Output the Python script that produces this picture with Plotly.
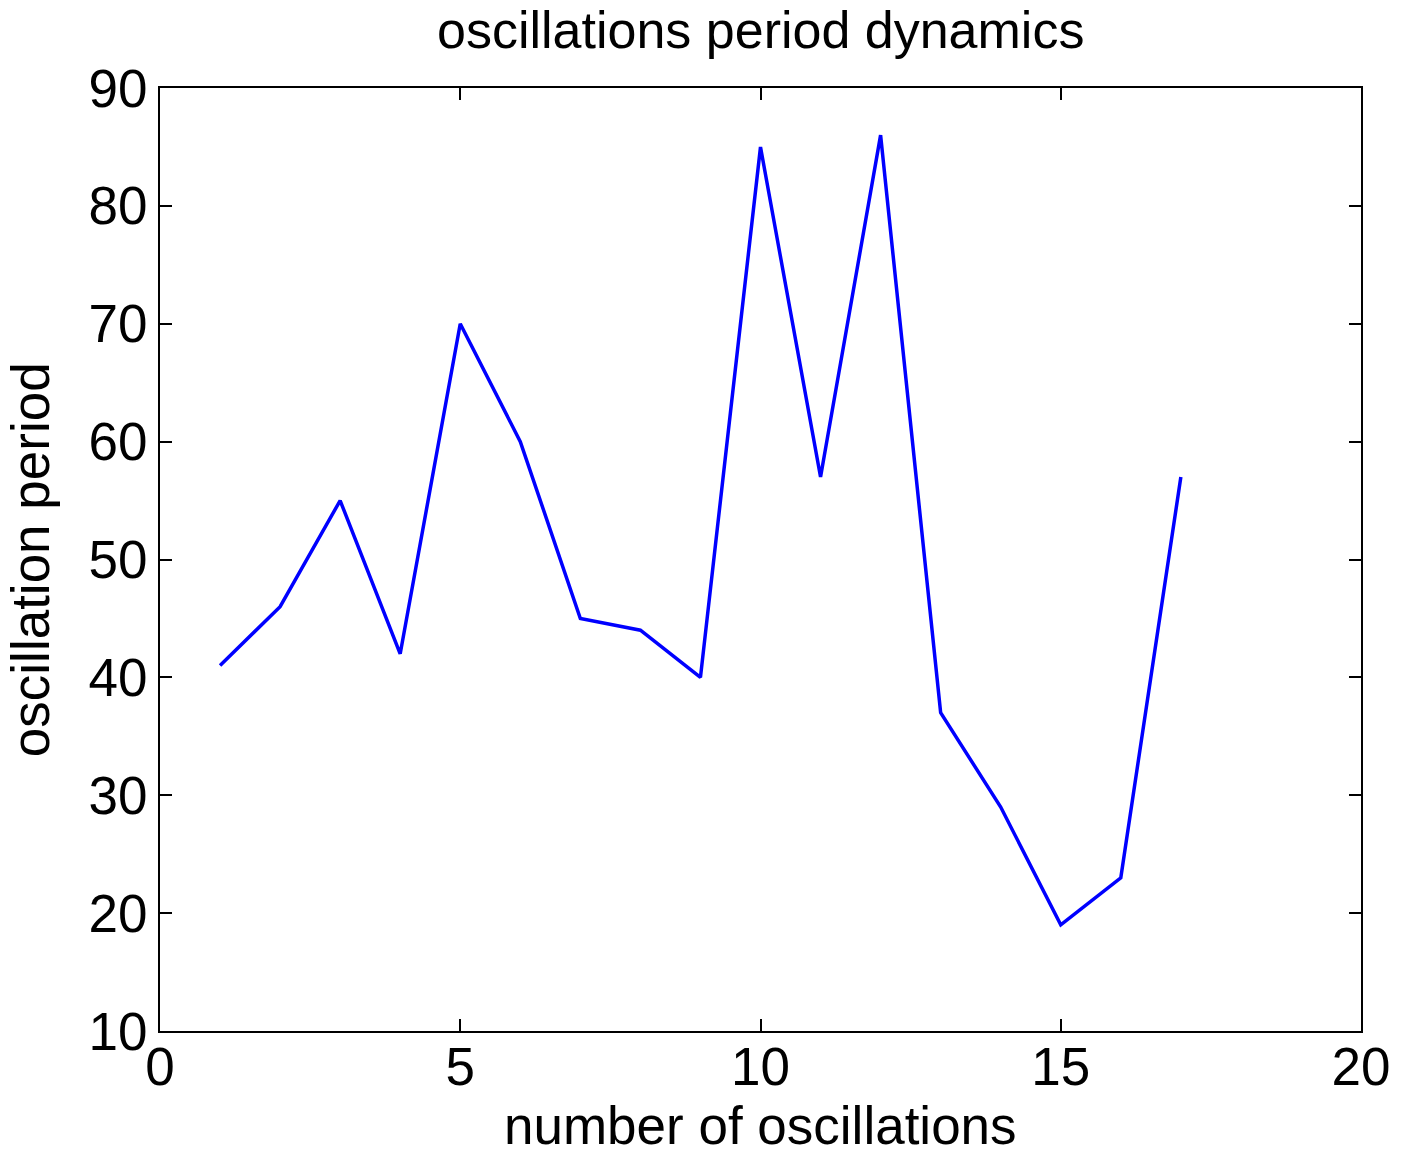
import plotly.graph_objects as go

# Oscillation index and measured period for each oscillation
oscillation_number = list(range(1, 18))
oscillation_period = [41, 46, 55, 42, 70, 60, 45, 44, 40, 85, 57, 86, 37, 29, 19, 23, 57]

x_ticks = [0, 5, 10, 15, 20]
y_ticks = [10, 20, 30, 40, 50, 60, 70, 80, 90]

FONT = "Liberation Sans, Arial, Helvetica, sans-serif"
W, H = 1402, 1154
L, R, T, B = 160, 35, 88, 123
PW, PH = W - L - R, H - T - B

fig = go.Figure()
fig.add_trace(go.Scatter(
    x=oscillation_number,
    y=oscillation_period,
    mode="lines",
    line=dict(color="#0000FF", width=3.5),
    showlegend=False,
))

axis_common = dict(
    showline=True,
    linecolor="black",
    linewidth=2,
    mirror="ticks",
    ticks="inside",
    ticklen=12,
    tickwidth=1.5,
    tickcolor="black",
    showgrid=False,
    zeroline=False,
    tickfont=dict(family=FONT, size=53, color="black"),
)

fig.update_xaxes(range=[0, 20], tickvals=x_ticks, ticktext=[str(v) for v in x_ticks],
                 ticklabelstandoff=-12, **axis_common)
fig.update_yaxes(range=[10, 90], tickvals=y_ticks, ticktext=[str(v) for v in y_ticks],
                 ticklabelstandoff=0, **axis_common)

fig.update_layout(
    width=W,
    height=H,
    margin=dict(l=L, r=R, t=T, b=B, pad=0),
    paper_bgcolor="white",
    plot_bgcolor="white",
    annotations=[
        dict(text="oscillations period dynamics", xref="paper", yref="paper",
             x=0.5, y=1 + 58 / PH, xanchor="center", yanchor="middle", borderpad=0,
             showarrow=False, font=dict(family=FONT, size=52, color="black")),
        dict(text="number of oscillations", xref="paper", yref="paper",
             x=0.5, y=-94 / PH, xanchor="center", yanchor="middle", borderpad=0,
             showarrow=False, font=dict(family=FONT, size=53, color="black")),
        dict(text="oscillation period", xref="paper", yref="paper",
             x=-130 / PW, y=0.5, xanchor="center", yanchor="middle", textangle=-90,
             borderpad=0, showarrow=False, font=dict(family=FONT, size=53, color="black")),
    ],
)

fig.write_html("out.html")
